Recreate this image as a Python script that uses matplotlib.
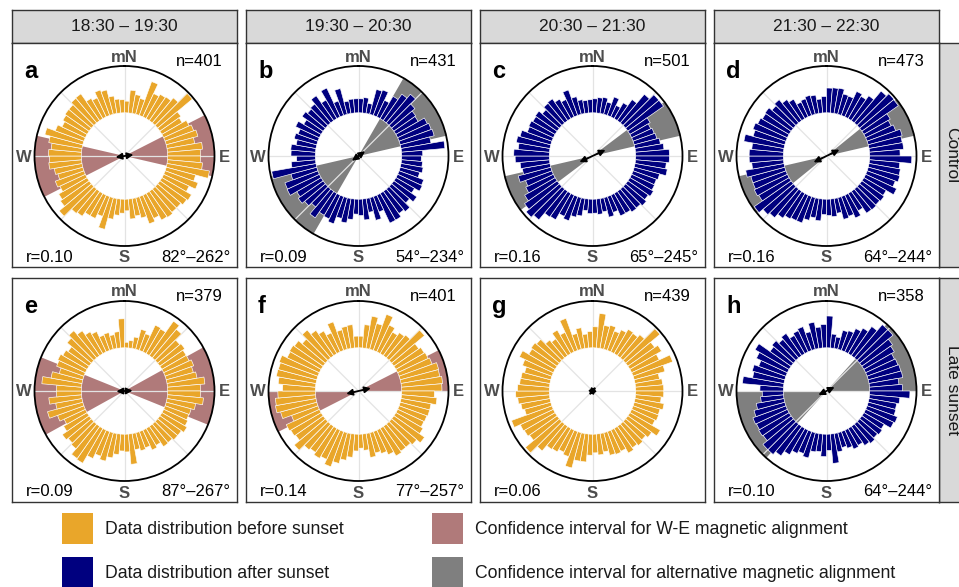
import numpy as np
import matplotlib
matplotlib.use("Agg")
import matplotlib.pyplot as plt
from matplotlib.patches import Rectangle

plt.rcParams['font.family'] = ['Liberation Sans', 'DejaVu Sans']

# ---------------- data ----------------
time_labels = ["18:30 \u2013 19:30", "19:30 \u2013 20:30", "20:30 \u2013 21:30", "21:30 \u2013 22:30"]
row_labels = ["Control", "Late sunset"]
panel_letters = ["a", "b", "c", "d", "e", "f", "g", "h"]
panel_n = [401, 431, 501, 473, 379, 401, 439, 358]
panel_r = [0.10, 0.09, 0.16, 0.16, 0.09, 0.14, 0.06, 0.10]
panel_axis = [82, 54, 65, 64, 87, 77, 40, 64]
panel_axis_label = ["82\u00b0\u2013262\u00b0", "54\u00b0\u2013234\u00b0", "65\u00b0\u2013245\u00b0",
                    "64\u00b0\u2013244\u00b0", "87\u00b0\u2013267\u00b0", "77\u00b0\u2013257\u00b0",
                    "", "64\u00b0\u2013244\u00b0"]
panel_after_sunset = [False, True, True, True, False, False, False, True]
# confidence interval (deg) around the axis; None = no interval
ci_low = [63, 30, 53, 51, 61, 63, None, 42]
ci_high = [103, 77, 77, 77, 112, 90, None, 90]
ci_type = ["WE", "alt", "alt", "alt", "WE", "WE", None, "alt"]

# 72 bins of 5 deg, clockwise from magnetic north (relative bar lengths)
bins_a = [2.5, 4.9, 4.1, 3.5, 7.7, 5.5, 6.0, 6.2, 7.0,
          9.7, 5.5, 5.0, 6.0, 6.5, 7.0, 6.0, 7.5, 7.0,
          7.0, 7.5, 9.2, 6.5, 7.5, 6.0, 7.3, 7.0, 6.5,
          6.5, 6.8, 6.6, 5.5, 6.2, 4.5, 3.8, 4.3, 2.5,
          3.0, 3.5, 4.5, 7.0, 4.5, 5.5, 5.5, 6.5, 6.8,
          9.0, 7.5, 7.0, 6.0, 6.5, 5.5, 6.0, 7.0, 6.8,
          7.0, 6.5, 7.2, 8.4, 6.5, 5.5, 6.0, 6.3, 6.3,
          6.9, 7.0, 5.0, 4.5, 5.8, 5.4, 3.8, 3.0, 2.8]
bins_b = [3.0, 3.3, 2.2, 5.5, 5.8, 3.9, 5.5, 6.9, 8.0,
          6.5, 5.7, 5.5, 7.0, 7.3, 7.5, 6.5, 9.3, 4.5,
          4.2, 4.5, 4.8, 4.3, 5.6, 5.8, 4.6, 6.0, 5.0,
          6.3, 5.8, 6.6, 6.6, 3.5, 5.0, 3.0, 4.5, 3.5,
          3.2, 4.4, 5.3, 4.6, 6.2, 5.6, 5.4, 6.9, 5.0,
          5.8, 6.5, 6.0, 7.6, 7.5, 5.7, 9.6, 5.2, 4.0,
          5.2, 5.3, 4.3, 5.0, 4.5, 5.6, 4.3, 5.5, 5.0,
          5.3, 6.5, 4.6, 6.8, 3.3, 5.7, 2.7, 3.0, 3.0]
bins_c = [3.0, 3.3, 3.5, 2.7, 4.2, 2.7, 3.9, 5.5, 8.0,
          9.3, 9.3, 5.0, 4.5, 4.8, 5.0, 5.5, 6.1, 7.2,
          7.2, 6.6, 7.0, 5.6, 5.3, 5.4, 5.8, 5.3, 5.8,
          5.3, 5.4, 4.9, 4.9, 3.6, 4.3, 2.9, 3.3, 3.0,
          3.1, 2.5, 3.8, 4.3, 5.5, 5.0, 6.5, 6.7, 8.6,
          9.3, 8.5, 7.5, 6.5, 6.0, 7.2, 6.0, 6.3, 7.3,
          7.6, 6.7, 7.3, 6.8, 5.6, 5.8, 5.5, 5.7, 4.8,
          5.5, 5.7, 4.8, 4.1, 5.8, 3.9, 3.0, 2.7, 2.8]
bins_d = [5.3, 5.4, 5.5, 4.5, 4.4, 6.0, 5.5, 6.5, 8.9,
          9.6, 9.5, 6.5, 6.0, 6.5, 7.5, 7.2, 7.3, 6.5,
          9.0, 6.5, 6.8, 7.0, 6.4, 7.3, 5.5, 5.8, 5.6,
          5.8, 5.7, 4.3, 5.4, 4.5, 4.8, 3.2, 3.8, 3.5,
          3.3, 4.7, 4.2, 5.0, 6.0, 6.0, 6.3, 7.0, 8.0,
          8.5, 9.6, 7.5, 7.8, 7.5, 7.5, 8.3, 6.8, 7.3,
          7.3, 6.8, 8.7, 7.0, 7.5, 7.0, 6.6, 6.8, 6.0,
          6.5, 5.5, 4.8, 3.5, 3.8, 4.2, 4.0, 3.0, 3.5]
bins_e = [1.2, 1.6, 2.5, 4.4, 3.8, 6.3, 6.1, 9.0, 8.0,
          6.2, 6.5, 6.0, 6.0, 6.5, 6.0, 6.5, 8.0, 7.0,
          7.0, 7.7, 6.2, 5.5, 5.4, 5.7, 6.2, 5.6, 5.6,
          5.2, 5.3, 4.2, 4.7, 3.7, 4.0, 3.5, 6.5, 3.8,
          3.6, 4.4, 5.3, 6.3, 5.6, 6.7, 8.6, 8.4, 6.9,
          6.5, 7.0, 5.8, 5.0, 6.0, 7.8, 5.7, 7.0, 5.3,
          5.3, 8.5, 6.7, 5.2, 6.2, 6.5, 6.0, 5.5, 6.8,
          7.6, 6.5, 5.4, 4.8, 3.5, 3.7, 3.0, 3.5, 6.2]
bins_f = [2.5, 5.0, 7.0, 5.7, 8.2, 6.3, 5.3, 6.0, 6.4,
          9.2, 6.5, 7.0, 7.2, 7.5, 8.5, 8.4, 8.8, 8.6,
          7.0, 7.6, 6.5, 6.5, 6.3, 6.2, 6.7, 8.0, 7.0,
          6.5, 6.5, 6.8, 5.8, 5.0, 4.5, 5.2, 3.5, 3.0,
          3.6, 5.0, 5.8, 6.8, 8.0, 6.9, 7.4, 6.8, 7.2,
          8.7, 7.2, 7.5, 7.8, 6.0, 8.0, 8.8, 8.6, 8.0,
          7.0, 8.0, 8.6, 8.5, 8.8, 7.6, 7.8, 7.5, 6.5,
          7.8, 6.6, 5.6, 4.5, 6.5, 4.3, 4.8, 5.0, 2.5]
bins_g = [4.5, 7.4, 5.0, 5.3, 4.4, 5.2, 6.0, 5.8, 6.5,
          9.6, 7.0, 7.8, 6.5, 9.0, 6.8, 5.3, 5.8, 6.0,
          6.0, 5.5, 6.3, 5.7, 5.8, 5.5, 7.5, 6.2, 5.6,
          6.0, 5.6, 6.1, 5.0, 5.2, 5.0, 4.0, 4.5, 4.0,
          4.5, 6.0, 6.0, 7.8, 5.7, 5.2, 5.8, 6.0, 7.5,
          9.5, 7.2, 7.6, 7.8, 9.2, 5.8, 6.3, 6.8, 7.2,
          6.8, 6.4, 6.3, 5.8, 6.7, 8.0, 6.5, 6.8, 6.4,
          5.0, 4.4, 5.8, 4.6, 7.3, 3.5, 4.5, 3.0, 3.5]
bins_h = [6.8, 3.0, 2.5, 4.2, 4.5, 5.5, 6.3, 7.6, 9.3,
          9.3, 8.0, 7.5, 6.8, 7.0, 7.2, 7.3, 6.3, 7.0,
          8.6, 6.5, 6.0, 6.1, 6.9, 6.6, 5.0, 5.3, 5.0,
          5.4, 5.0, 4.2, 4.5, 3.8, 3.3, 4.0, 6.3, 3.5,
          4.8, 3.8, 4.0, 5.6, 5.0, 5.5, 6.5, 7.7, 8.5,
          8.5, 7.3, 7.5, 7.3, 7.5, 6.8, 6.0, 4.9, 4.5,
          5.0, 8.8, 6.8, 7.2, 6.2, 7.3, 8.4, 5.5, 6.0,
          5.2, 5.8, 4.5, 5.0, 5.4, 3.9, 5.7, 4.5, 5.0]
panel_bins = [bins_a, bins_b, bins_c, bins_d, bins_e, bins_f, bins_g, bins_h]

legend_labels = ["Data distribution before sunset", "Data distribution after sunset",
                 "Confidence interval for W-E magnetic alignment",
                 "Confidence interval for alternative magnetic alignment"]

# ---------------- style ----------------
ORANGE = "#E9A62A"
NAVY = "#00007F"
BROWN = "#B07A7A"
GREY = "#7F7F7F"
STRIP_BG = "#D9D9D9"
FRAME = "#333333"
COMPASS = "#4D4D4D"

W, H = 959, 587
fig = plt.figure(figsize=(W / 100, H / 100), dpi=100)
fig.patch.set_facecolor("white")

def fx(p):
    return p / W

def fy(p):
    return 1 - p / H

col_left = [12, 246, 480, 714]
row_top = [43, 278]
PW, PH = 225, 224
STRIP_TOP, STRIP_H = 10, 33
R_PX = 90
R0 = 0.48
SCALE = 0.052

theta = np.deg2rad(np.arange(2.5, 360, 5))
bw = np.deg2rad(5)

# column strips
for j, lab in enumerate(time_labels):
    sa = fig.add_axes([fx(col_left[j]), fy(STRIP_TOP + STRIP_H), PW / W, STRIP_H / H])
    sa.set_facecolor(STRIP_BG)
    sa.set_xticks([]); sa.set_yticks([])
    for s in sa.spines.values():
        s.set_color(FRAME); s.set_linewidth(1.0)
    sa.text(0.5, 0.5, lab, ha="center", va="center", fontsize=12.5, color="#1A1A1A",
            transform=sa.transAxes)

# row strips (right side, partly outside the figure)
for i, lab in enumerate(row_labels):
    ra = fig.add_axes([fx(939), fy(row_top[i] + PH), 30 / W, PH / H])
    ra.set_facecolor(STRIP_BG)
    ra.set_xticks([]); ra.set_yticks([])
    for s in ra.spines.values():
        s.set_color(FRAME); s.set_linewidth(1.0)
    ra.text(13 / 30, 0.5, lab, ha="center", va="center", rotation=270, fontsize=12.5,
            color="#1A1A1A", transform=ra.transAxes)

for k in range(8):
    i, j = divmod(k, 4)
    L, T = col_left[j], row_top[i]
    pa = fig.add_axes([fx(L), fy(T + PH), PW / W, PH / H])
    pa.set_xlim(0, PW); pa.set_ylim(PH, 0)
    pa.set_xticks([]); pa.set_yticks([])
    for s in pa.spines.values():
        s.set_color(FRAME); s.set_linewidth(1.0)
    pa.text(12, 29, panel_letters[k], fontsize=17, fontweight="bold", ha="left", va="center")
    pa.text(112.5, 14, "mN", fontsize=12, fontweight="bold", color=COMPASS, ha="center", va="center")
    pa.text(12, 114, "W", fontsize=12, fontweight="bold", color=COMPASS, ha="center", va="center")
    pa.text(212, 114, "E", fontsize=12, fontweight="bold", color=COMPASS, ha="center", va="center")
    pa.text(112.5, 215, "S", fontsize=12, fontweight="bold", color=COMPASS, ha="center", va="center")
    pa.text(211, 19, f"n={panel_n[k]}", fontsize=12, ha="right", va="center")
    pa.text(14, 214, f"r={panel_r[k]:.2f}", fontsize=12, ha="left", va="center")
    if panel_axis_label[k]:
        pa.text(218, 214, panel_axis_label[k], fontsize=12, ha="right", va="center")

    cx, cy = L + PW / 2, T + 113
    ax = fig.add_axes([fx(cx - R_PX), fy(cy + R_PX), 2 * R_PX / W, 2 * R_PX / H], projection="polar")
    ax.set_theta_zero_location("N")
    ax.set_theta_direction(-1)
    ax.set_ylim(0, 1)
    ax.set_xticks([]); ax.set_yticks([])
    ax.grid(False)
    ax.patch.set_alpha(0)
    ax.spines["polar"].set_color("black")
    ax.spines["polar"].set_linewidth(1.3)

    # confidence wedges
    if ci_low[k] is not None:
        wcol = BROWN if ci_type[k] == "WE" else GREY
        width = np.deg2rad(ci_high[k] - ci_low[k])
        for off in (0, 180):
            ax.bar(np.deg2rad(ci_low[k] + off), 1.0, width=width, bottom=0, align="edge",
                   color=wcol, edgecolor="none", zorder=1)
    # radial grid lines
    for g in range(0, 360, 45):
        ax.plot([np.deg2rad(g), np.deg2rad(g)], [0, 1], color="#E3E3E3", lw=0.9, zorder=1.5)
    # histogram bars
    col = NAVY if panel_after_sunset[k] else ORANGE
    heights = np.array(panel_bins[k]) * SCALE
    ax.bar(theta, heights, width=bw, bottom=R0, color=col, edgecolor="white", linewidth=0.45, zorder=2)
    # mean axis arrow
    t = np.deg2rad(panel_axis[k])
    ax.annotate("", xy=(t, panel_r[k]), xytext=(t + np.pi, panel_r[k]),
                arrowprops=dict(arrowstyle="<|-|>", color="black", lw=1.3,
                                mutation_scale=9, shrinkA=0, shrinkB=0), zorder=5)

# legend
leg = [(62, 513, ORANGE, legend_labels[0]), (62, 557, NAVY, legend_labels[1]),
       (432, 513, BROWN, legend_labels[2]), (432, 557, GREY, legend_labels[3])]
for x0, y0, c, lab in leg:
    fig.patches.append(Rectangle((fx(x0), fy(y0 + 31)), 31 / W, 31 / H, transform=fig.transFigure,
                                 facecolor=c, edgecolor="none"))
    fig.text(fx(x0 + 43), fy(y0 + 17), lab, fontsize=12.7, ha="left", va="center", color="#1A1A1A")

fig.savefig("out.png", dpi=100)
